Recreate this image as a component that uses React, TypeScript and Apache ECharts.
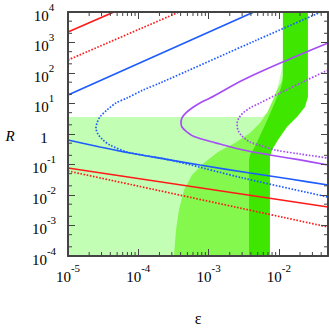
import React, { useEffect, useRef } from 'react';
import * as echarts from 'echarts';

// Axis ranges
const X_MIN = 1e-5;
const X_MAX = 0.05;
const Y_MIN = 1e-4;
const Y_MAX = 1e4;

// Minor tick mantissas
const xMinorMantissas = [2, 3, 4, 5, 6, 7, 8, 9];
const xDecades = [1e-5, 1e-4, 1e-3, 1e-2];
const yMinorMantissas = [2, 5];
const yDecades = [1e-4, 1e-3, 1e-2, 1e-1, 1, 10, 100, 1000];

// Shaded regions [epsilon, R]
const lightRegion: number[][] = [
  [1e-5, 1e-4], [1e-5, 3.6], [5.75e-3, 3.6], [7.0e-3, 5.3], [8.24e-3, 10.4],
  [9.4e-3, 27.7], [1.04e-2, 74], [1.11e-2, 160], [1.14e-2, 280], [1.44e-2, 280],
  [1.69e-2, 13], [1.44e-2, 2.88], [8.8e-3, 0.635], [5.75e-3, 0.205], [5.38e-3, 0.141],
  [5.38e-3, 1e-4],
];
const mediumRegion: number[][] = [
  [3.22e-4, 1e-4], [3.44e-4, 7.1e-4], [3.79e-4, 3.22e-3], [4.47e-4, 0.0146],
  [5.81e-4, 0.0453], [8.61e-4, 0.112], [1.36e-3, 0.257], [2.37e-3, 0.507],
  [3.88e-3, 1.08], [5.38e-3, 2.3], [6.78e-3, 4.9], [8.24e-3, 13], [9.4e-3, 27.7],
  [1.07e-2, 47], [1.14e-2, 80], [1.44e-2, 80], [1.69e-2, 13], [1.44e-2, 2.88],
  [8.8e-3, 0.635], [5.75e-3, 0.205], [5.38e-3, 0.141], [5.38e-3, 1e-4],
];
const darkBand: number[][] = [
  [1.14e-2, 1e4], [1.14e-2, 58.9], [1.07e-2, 32.2], [9.7e-3, 19], [8.24e-3, 7.7],
  [6.55e-3, 2.3], [5.05e-3, 0.635], [4.29e-3, 0.299], [3.88e-3, 0.205], [3.76e-3, 0.141],
  [3.76e-3, 1e-4], [7.46e-3, 1e-4], [7.46e-3, 0.176], [7.98e-3, 0.299], [9.7e-3, 0.635],
  [1.3e-2, 1.7], [1.81e-2, 3.6], [2.35e-2, 7.7], [2.59e-2, 16.3], [2.59e-2, 1e4],
];

// Curves [epsilon, R]
const redSolidUpper = [[1e-5, 2210], [4.5e-5, 1e4]];
const redSolidLower = [[1e-5, 0.0768], [0.05, 0.00404]];
const redDottedUpper = [[1e-5, 267], [3.8e-4, 1e4]];
const redDottedLower = [[1e-5, 0.0612], [0.05, 8.93e-4]];
const blueSolidUpper = [[1e-5, 19], [4.4e-3, 1e4]];
const blueSolidLower = [
  [1e-5, 0.635], [2.85e-5, 0.375], [7.62e-5, 0.238], [2.4e-4, 0.151],
  [7.55e-4, 0.0964], [3.88e-3, 0.0526], [1.44e-2, 0.0335], [0.05, 0.0213],
];
const blueDotted = [
  [3.97e-2, 1e4], [4.88e-3, 1208], [2.04e-4, 47], [1.17e-4, 27.7], [6.9e-5, 15.1],
  [4.82e-5, 10.4], [3.59e-5, 6.12], [2.85e-5, 3.61], [2.59e-5, 2.3], [2.5e-5, 1.57],
  [2.67e-5, 1.0], [3.15e-5, 0.635], [3.96e-5, 0.436], [6.9e-5, 0.257], [2.83e-4, 0.141],
  [3.09e-3, 0.036], [0.05, 0.00859],
];
const purpleSolid = [
  [0.05, 963], [1.14e-2, 230], [3.09e-3, 58.9], [1.05e-3, 15.1], [7.55e-4, 10.4],
  [5.81e-4, 7.11], [4.76e-4, 4.89], [4.18e-4, 3.35], [4.05e-4, 2.3], [4.18e-4, 1.7],
  [4.76e-4, 1.25], [6.0e-4, 0.86], [8.9e-4, 0.635], [1.45e-3, 0.47], [3.09e-3, 0.299],
  [7.46e-3, 0.205], [2.0e-2, 0.141], [0.05, 0.0964],
];
const purpleDotted = [
  [0.05, 125], [2.51e-2, 58.9], [1.04e-2, 22.1], [5.38e-3, 10.4], [3.88e-3, 7.11],
  [3.09e-3, 4.89], [2.7e-3, 3.35], [2.54e-3, 2.13], [2.62e-3, 1.35], [2.99e-3, 0.86],
  [3.88e-3, 0.547], [5.75e-3, 0.404], [8.8e-3, 0.299], [2.0e-2, 0.221], [0.05, 0.163],
];

const RED = '#ff1a1a';
const BLUE = '#1f5cff';
const PURPLE = '#a64df5';
const LIGHT = '#c2ffb4';
const MEDIUM = '#84f84c';
const DARK = '#3ee600';
const FRAME = '#444444';
const FONT = '"Liberation Serif", "Times New Roman", serif';

const labelFormatter = (v: number) => {
  const e = Math.round(Math.log10(v));
  if (Math.abs(Math.log10(v) - e) > 1e-6) return '';
  if (e === 0) return '{b|1}';
  return `{b|10}{s|${e}}`;
};

const rich = {
  b: { fontSize: 15, fontFamily: FONT, color: '#000', lineHeight: 22, verticalAlign: 'bottom' },
  s: { fontSize: 11, fontFamily: FONT, color: '#000', lineHeight: 12, verticalAlign: 'top' },
};

function polySeries(pts: number[][], color: string, z: number) {
  return {
    type: 'custom',
    coordinateSystem: 'cartesian2d',
    xAxisIndex: 0,
    yAxisIndex: 0,
    silent: true,
    clip: true,
    z,
    data: [[X_MIN, Y_MIN]],
    renderItem: (_p: any, api: any) => ({
      type: 'polygon',
      shape: { points: pts.map((p) => api.coord(p)) },
      style: { fill: color, stroke: null },
    }),
  };
}

function lineSeries(pts: number[][], color: string, dotted: boolean) {
  return {
    type: 'line',
    xAxisIndex: 0,
    yAxisIndex: 0,
    data: pts,
    showSymbol: false,
    symbol: 'none',
    smooth: 0.3,
    clip: true,
    silent: true,
    z: 5,
    lineStyle: { color, width: 1.7, type: dotted ? [1.6, 1.6] : 'solid' },
  };
}

export default function App() {
  const ref = useRef<HTMLDivElement>(null);
  useEffect(() => {
    document.body.style.margin = '0';
    if (!ref.current) return;
    const chart = echarts.init(ref.current, undefined, { renderer: 'svg' });

    const xMinor: number[] = [];
    xDecades.forEach((d) => xMinorMantissas.forEach((m) => { const v = d * m; if (v < X_MAX * 0.999) xMinor.push(v); }));
    const yMinor: number[] = [];
    yDecades.forEach((d) => yMinorMantissas.forEach((m) => yMinor.push(d * m)));

    const axisCommon = {
      type: 'log',
      logBase: 10,
      z: 10,
      splitLine: { show: false },
      axisLine: { show: true, onZero: false, lineStyle: { color: FRAME, width: 2 } },
      axisTick: { show: true, inside: true, length: 7, lineStyle: { color: FRAME, width: 1 } },
    };

    chart.setOption({
      animation: false,
      grid: { left: 68, top: 12, width: 260, height: 244, containLabel: false },
      xAxis: [
        {
          ...axisCommon, min: X_MIN, max: X_MAX, position: 'bottom',
          axisLabel: { formatter: labelFormatter, rich, margin: 6, showMaxLabel: false },
        },
        {
          ...axisCommon, min: X_MIN, max: X_MAX, position: 'top',
          axisLabel: { show: false },
        },
      ],
      yAxis: [
        {
          ...axisCommon, min: Y_MIN, max: Y_MAX, position: 'left',
          axisLabel: { formatter: labelFormatter, rich, margin: 24, align: 'center' },
        },
        {
          ...axisCommon, min: Y_MIN, max: Y_MAX, position: 'right',
          axisLabel: { show: false },
        },
      ],
      graphic: [
        { type: 'text', x: 10, y: 136, z: 20, style: { text: 'R', font: `italic 15px ${FONT}`, fill: '#000', align: 'center', verticalAlign: 'middle' } },
        { type: 'text', x: 198, y: 318, z: 20, style: { text: 'ε', font: `16px ${FONT}`, fill: '#000', align: 'center', verticalAlign: 'middle' } },
      ],
      series: [
        polySeries(lightRegion, LIGHT, 1),
        polySeries(mediumRegion, MEDIUM, 2),
        polySeries(darkBand, DARK, 3),
        lineSeries(redSolidUpper, RED, false),
        lineSeries(redSolidLower, RED, false),
        lineSeries(redDottedUpper, RED, true),
        lineSeries(redDottedLower, RED, true),
        lineSeries(blueSolidUpper, BLUE, false),
        lineSeries(blueSolidLower, BLUE, false),
        lineSeries(blueDotted, BLUE, true),
        lineSeries(purpleSolid, PURPLE, false),
        lineSeries(purpleDotted, PURPLE, true),
        {
          type: 'custom',
          coordinateSystem: 'cartesian2d',
          xAxisIndex: 0,
          yAxisIndex: 0,
          silent: true,
          clip: false,
          z: 11,
          data: [[X_MIN, Y_MIN]],
          renderItem: (_p: any, api: any) => {
            const children: any[] = [];
            const st = { stroke: FRAME, lineWidth: 1 };
            xMinor.forEach((v) => {
              const b = api.coord([v, Y_MIN]);
              const t = api.coord([v, Y_MAX]);
              children.push({ type: 'line', shape: { x1: b[0], y1: b[1], x2: b[0], y2: b[1] - 4 }, style: st });
              children.push({ type: 'line', shape: { x1: t[0], y1: t[1], x2: t[0], y2: t[1] + 4 }, style: st });
            });
            yMinor.forEach((v) => {
              const l = api.coord([X_MIN, v]);
              const r = api.coord([X_MAX, v]);
              children.push({ type: 'line', shape: { x1: l[0], y1: l[1], x2: l[0] + 4, y2: l[1] }, style: st });
              children.push({ type: 'line', shape: { x1: r[0], y1: r[1], x2: r[0] - 4, y2: r[1] }, style: st });
            });
            return { type: 'group', children };
          },
        },
      ],
    });
    return () => chart.dispose();
  }, []);
  return <div ref={ref} style={{ width: 329, height: 328 }} />;
}
